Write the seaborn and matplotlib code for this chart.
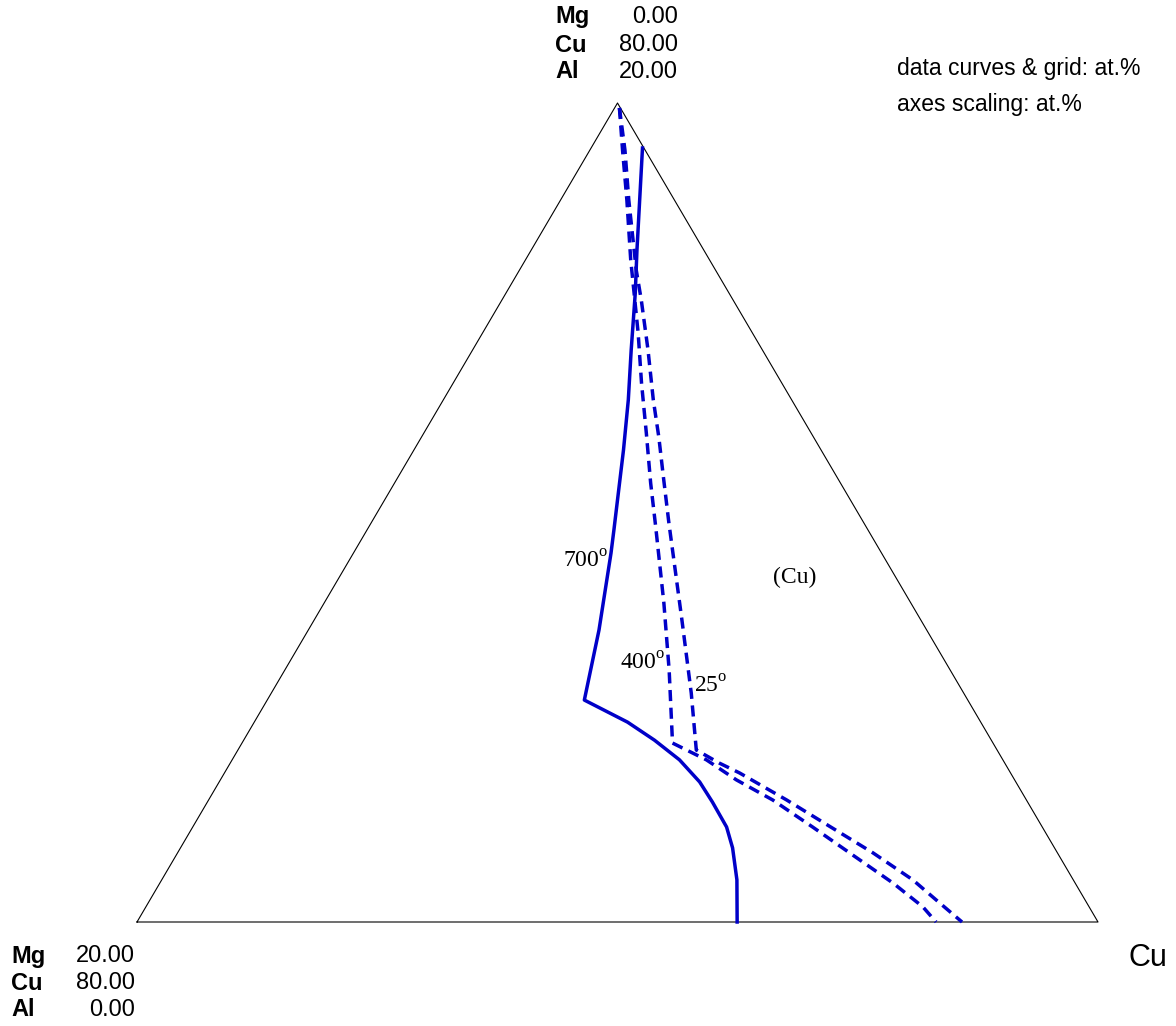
import seaborn as sns
import matplotlib.pyplot as plt
import pandas as pd
import numpy as np

mg_700 = [0.03, 1.39, 1.95, 2.73, 3.40, 4.11, 5.29, 5.63, 6.82, 7.98,
          7.35, 7.01, 6.73, 6.58, 6.56, 6.57, 6.70, 7.00, 7.51]
al_700 = [18.90, 16.41, 15.36, 13.97, 12.75, 11.53, 9.57, 9.01, 7.13, 5.42,
          4.88, 4.44, 3.96, 3.42, 2.93, 2.32, 1.81, 1.03, 0.00]

mg_400 = [0.02, 0.47, 0.99, 1.64, 2.38, 2.92, 3.43, 3.95, 4.38, 5.14, 5.85,
          6.67, 6.17, 5.79, 5.28, 4.78, 4.29, 3.79, 3.46, 3.37]
al_400 = [19.88, 18.85, 17.63, 16.17, 14.38, 13.16, 11.94, 10.72, 9.65, 7.79, 6.15,
          4.37, 3.96, 3.47, 2.98, 2.32, 1.64, 0.95, 0.37, 0.00]

mg_25 = [0.02, 0.42, 0.95, 1.65, 1.91, 2.38, 2.88, 3.22, 3.61, 4.06, 4.97,
         5.67, 6.26, 5.94, 5.64, 4.99, 4.51, 3.84, 3.34, 3.06, 2.83]
al_25 = [19.88, 18.85, 17.63, 15.92, 15.19, 13.97, 12.75, 11.84, 10.87, 9.74, 7.38,
         5.59, 4.20, 3.88, 3.64, 2.98, 2.44, 1.69, 1.03, 0.46, 0.00]

# vertices del triangulo (Mg, Al)
mg_vert = [20, 0, 0, 20]
al_vert = [0, 0, 20, 0]

escala = 20.0


def a_cartesiano(mg, al):
    b = np.array(mg) / escala
    a = np.array(al) / escala
    return pd.DataFrame({'X': 1 - 0.5 * a - b, 'Y': a * np.sqrt(3) / 2})


plt.rcParams['font.family'] = ['Liberation Sans', 'DejaVu Sans']
plt.rcParams['mathtext.fontset'] = 'custom'
plt.rcParams['mathtext.rm'] = 'Liberation Serif'

fig = plt.figure(figsize=(11.76, 10.26), dpi=100)
ax = fig.add_axes([0, 0, 1, 1])
ax.set_xlim(-137 / 961, (1176 - 137) / 961)
ax.set_ylim(-104 / 945.7, (1026 - 104) / 945.7)
ax.axis('off')

azul = '#0000c8'
guiones = (0, (3.2, 1.9))

# marco del triangulo
sns.lineplot(data=a_cartesiano(mg_vert, al_vert), x='X', y='Y', sort=False,
             estimator=None, color='black', linewidth=0.8, ax=ax)

sns.lineplot(data=a_cartesiano(mg_700, al_700), x='X', y='Y', sort=False,
             estimator=None, color=azul, linewidth=2.5, ax=ax)
sns.lineplot(data=a_cartesiano(mg_400, al_400), x='X', y='Y', sort=False,
             estimator=None, color=azul, linewidth=2.5, linestyle=guiones, ax=ax)
sns.lineplot(data=a_cartesiano(mg_25, al_25), x='X', y='Y', sort=False,
             estimator=None, color=azul, linewidth=2.5, linestyle=guiones, ax=ax)


# etiquetas de los vertices (coordenadas de figura en pixeles)
def txt(x, y, s, **kw):
    fig.text(x / 1176, 1 - y / 1026, s, **kw)


def bloque(x_izq, x_der, ys, filas):
    for y, (el, val) in zip(ys, filas):
        txt(x_izq, y, el, fontsize=17, fontweight='bold', ha='left', va='center')
        txt(x_der, y, val, fontsize=17, ha='right', va='center')


bloque(555, 678, [17, 45, 72], [('Mg', '0.00'), ('Cu', '80.00'), ('Al', '20.00')])
bloque(11, 135, [956, 983, 1010], [('Mg', '20.00'), ('Cu', '80.00'), ('Al', '0.00')])
txt(1148, 958, 'Cu', fontsize=22, ha='center', va='center')

txt(897, 68, 'data curves & grid: at.%', fontsize=16.5, ha='left', va='center')
txt(897, 104, 'axes scaling: at.%', fontsize=16.5, ha='left', va='center')

serif = ['Liberation Serif', 'DejaVu Serif']
txt(795, 583, '(Cu)', fontsize=17, family=serif, ha='center', va='baseline')
txt(563, 568, r'700$^{\rm o}$', fontsize=17, family=serif, ha='left', va='baseline')
txt(620, 670, r'400$^{\rm o}$', fontsize=17, family=serif, ha='left', va='baseline')
txt(694, 693, r'25$^{\rm o}$', fontsize=17, family=serif, ha='left', va='baseline')

fig.savefig('out.png', dpi=100)
